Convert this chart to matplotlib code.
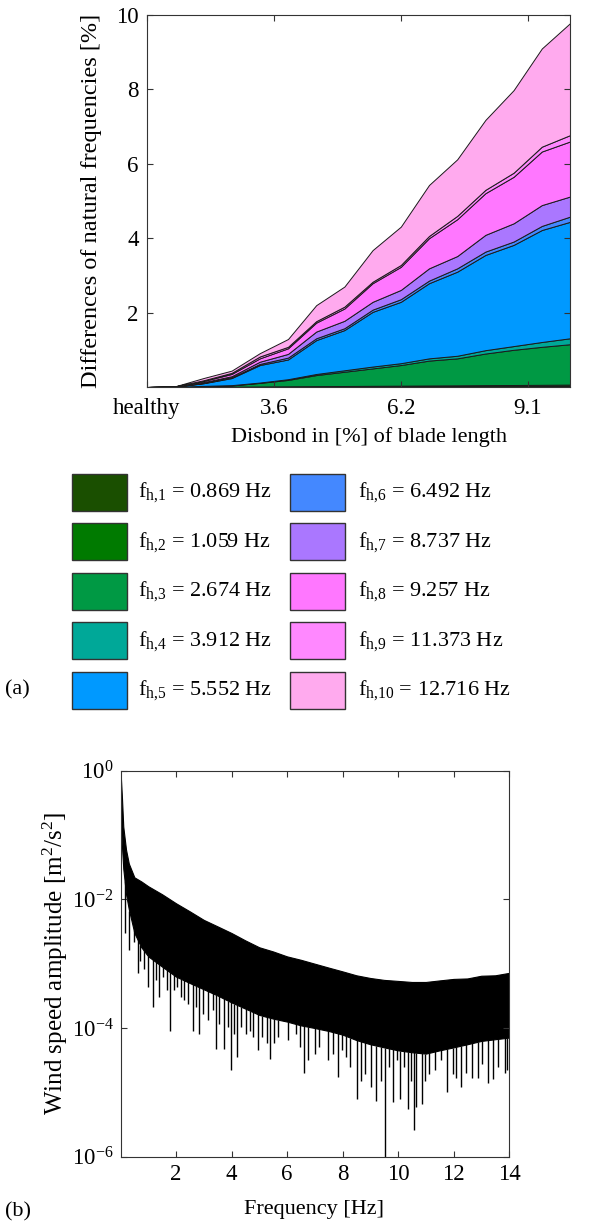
import matplotlib
matplotlib.use("Agg")
import matplotlib.pyplot as plt
from matplotlib.patches import Rectangle
import numpy as np

plt.rcParams["font.family"] = ["Liberation Serif", "DejaVu Serif"]
plt.rcParams["mathtext.fontset"] = "custom"
plt.rcParams["mathtext.rm"] = "Liberation Serif"
plt.rcParams["mathtext.it"] = "Liberation Serif"
plt.rcParams["mathtext.default"] = "regular"

# ---- (a) stacked differences of natural frequencies [%] ----
disbond_steps = np.arange(16)
tick_pos = [0, 4.5, 9, 13.5]
tick_labels = ["healthy", "3.6", "6.2", "9.1"]

mode_1 = [0, 0, 0.002, 0.004, 0.006, 0.008, 0.010, 0.012, 0.014, 0.016, 0.018, 0.020, 0.022, 0.024, 0.026, 0.030]
mode_2 = [0, 0, 0.003, 0.005, 0.008, 0.010, 0.013, 0.015, 0.018, 0.020, 0.023, 0.025, 0.028, 0.030, 0.033, 0.035]
mode_3 = [0, 0.003, 0.015, 0.031, 0.096, 0.172, 0.297, 0.383, 0.468, 0.554, 0.669, 0.725, 0.850, 0.946, 1.021, 1.085]
mode_4 = [0, 0.001, 0.01, 0.01, 0.01, 0.02, 0.03, 0.04, 0.05, 0.05, 0.06, 0.07, 0.09, 0.10, 0.13, 0.16]
mode_5 = [0, 0.006, 0.07, 0.19, 0.47, 0.53, 0.91, 1.08, 1.47, 1.65, 2.02, 2.26, 2.56, 2.72, 3.01, 3.13]
mode_6 = [0, 0.001, 0.01, 0.02, 0.03, 0.05, 0.05, 0.05, 0.06, 0.07, 0.07, 0.09, 0.09, 0.09, 0.11, 0.14]
mode_7 = [0, 0.003, 0.02, 0.03, 0.06, 0.10, 0.18, 0.20, 0.21, 0.25, 0.33, 0.33, 0.45, 0.49, 0.56, 0.54]
mode_8 = [0, 0.002, 0.03, 0.06, 0.09, 0.15, 0.24, 0.33, 0.50, 0.62, 0.81, 0.99, 1.12, 1.25, 1.44, 1.48]
mode_9 = [0, 0.002, 0.02, 0.03, 0.05, 0.04, 0.04, 0.05, 0.04, 0.05, 0.06, 0.09, 0.09, 0.11, 0.13, 0.17]
mode_10 = [0, 0.002, 0.06, 0.06, 0.09, 0.21, 0.43, 0.54, 0.85, 1.03, 1.37, 1.52, 1.88, 2.22, 2.64, 3.01]

modes = [mode_1, mode_2, mode_3, mode_4, mode_5, mode_6, mode_7, mode_8, mode_9, mode_10]
mode_freqs = ["0.869", "1.059", "2.674", "3.912", "5.552",
              "6.492", "8.737", "9.257", "11.373", "12.716"]
mode_colors = ["#1a4f00", "#007a00", "#009944", "#00a898", "#0099ff",
               "#4488ff", "#aa77ff", "#ff77ff", "#ff88ff", "#ffaaee"]

# ---- (b) wind speed spectrum: envelope of the dense band + deep spikes ----
env_freq = [0, 0.05, 0.1, 0.2, 0.3, 0.5, 0.75, 1, 1.5, 2, 2.5, 3, 3.5, 4, 4.5, 5, 5.5,
            6, 6.5, 7, 7.5, 8, 8.5, 9, 9.5, 10, 10.5, 11, 11.5, 12, 12.5, 13, 13.5, 14]
env_upper = [1.0, 0.40, 0.135, 0.059, 0.036, 0.022, 0.019, 0.016, 0.012, 8.7e-3, 6.5e-3,
             4.8e-3, 3.8e-3, 3.0e-3, 2.3e-3, 1.8e-3, 1.55e-3, 1.3e-3, 1.15e-3, 1.0e-3,
             8.7e-4, 7.6e-4, 6.6e-4, 6.0e-4, 5.6e-4, 5.4e-4, 5.2e-4, 5.2e-4, 5.5e-4,
             5.8e-4, 5.9e-4, 6.5e-4, 6.6e-4, 7.2e-4]
env_lower = [0.25, 0.07, 0.03, 0.012, 7e-3, 3.0e-3, 1.8e-3, 1.3e-3, 9e-4, 6.3e-4, 5.0e-4,
             4.0e-4, 3.2e-4, 2.5e-4, 2.0e-4, 1.6e-4, 1.4e-4, 1.26e-4, 1.1e-4, 1.0e-4,
             9e-5, 7.9e-5, 6.5e-5, 5.6e-5, 5.0e-5, 4.5e-5, 4.2e-5, 4.0e-5, 4.5e-5,
             5.0e-5, 5.6e-5, 6.3e-5, 6.7e-5, 7.1e-5]

spike_freq = [0.16, 0.32, 0.48, 0.62, 0.72, 0.83, 0.98, 1.17, 1.28, 1.40, 1.54, 1.68, 1.79,
              1.91, 2.04, 2.18, 2.29, 2.43, 2.62, 2.71, 2.82, 2.98, 3.17, 3.32, 3.44, 3.56,
              3.72, 3.88, 3.97, 4.10, 4.20, 4.36, 4.52, 4.68, 4.79, 4.95, 5.11, 5.27, 5.40,
              5.53, 5.69, 6.03, 6.32, 6.48, 6.63, 6.77, 7.01, 7.16, 7.48, 7.64, 7.85, 7.98,
              8.12, 8.28, 8.54, 8.68, 8.80, 9.02, 9.21, 9.37, 9.53, 9.67, 9.81, 9.95, 10.07,
              10.23, 10.35, 10.48, 10.57, 10.66, 10.85, 10.97, 11.13, 11.34, 11.56, 11.77,
              11.98, 12.10, 12.28, 12.46, 12.68, 12.88, 13.04, 13.24, 13.42, 13.62, 13.84, 13.93]
spike_amp = [2.95e-3, 1.62e-3, 2.19e-3, 7.1e-4, 1.12e-3, 8.3e-4, 4.4e-4, 2.1e-4, 5.5e-4,
             3.0e-4, 6.2e-4, 3.9e-4, 9.1e-5, 3.9e-4, 4.4e-4, 3.0e-4, 2.7e-4, 2.4e-4, 9.1e-5,
             2.1e-4, 8.1e-5, 1.66e-4, 1.32e-4, 1.9e-4, 4.8e-5, 1.17e-4, 4.8e-5, 1.05e-4,
             2.2e-5, 8.1e-5, 3.5e-5, 1.05e-4, 8.1e-5, 9.1e-5, 7.2e-5, 4.5e-5, 7.2e-5, 5.8e-5,
             3.3e-5, 5.8e-5, 7.2e-5, 6.5e-5, 8.1e-5, 5.0e-5, 2.0e-5, 3.2e-5, 4.0e-5, 5.0e-5,
             3.2e-5, 4.0e-5, 1.74e-5, 4.5e-5, 3.5e-5, 2.5e-5, 7.9e-6, 1.5e-5, 1.95e-5, 1.2e-5,
             7.4e-6, 1.5e-5, 5e-7, 2.5e-5, 7.1e-6, 3.2e-5, 7.9e-6, 2.5e-5, 5.5e-6, 1.5e-5,
             2.6e-6, 5.9e-6, 6.6e-6, 1.5e-5, 1.95e-5, 2.2e-5, 3.2e-5, 1.0e-5, 1.95e-5, 1.7e-5,
             1.2e-5, 2.0e-5, 1.7e-5, 1.7e-5, 2.8e-5, 1.4e-5, 1.6e-5, 2.5e-5, 2.0e-5, 2.2e-5]

W, H = 592, 1226
fig = plt.figure(figsize=(W / 100, H / 100), dpi=100)

# overlay in pixel coordinates for legend and panel labels
lax = fig.add_axes([0, 0, 1, 1])
lax.set_xlim(0, W)
lax.set_ylim(H, 0)
lax.axis("off")

spine_col = "#333333"

# ---------------- panel (a) ----------------
ax1 = fig.add_axes([147 / W, 1 - 387 / H, 423 / W, 372 / H])
ax1.stackplot(disbond_steps, *modes, colors=mode_colors,
              edgecolor="#1a1a1a", linewidth=0.7)
ax1.set_xlim(0, 15)
ax1.set_ylim(0, 10)
ax1.set_yticks([2, 4, 6, 8, 10])
ax1.set_xticks(tick_pos, tick_labels)
ax1.tick_params(direction="in", top=True, right=True, length=4, width=0.8,
                labelsize=16.5, color=spine_col)
ax1.tick_params(axis="x", pad=8)
ax1.tick_params(axis="y", pad=6)
for s in ax1.spines.values():
    s.set_color(spine_col)
    s.set_linewidth(0.8)
ax1.set_ylabel("Differences of natural frequencies [%]", fontsize=17.5)
ax1.yaxis.set_label_coords(-0.106, 0.5)
ax1.set_xlabel("Disbond in [%] of blade length", fontsize=16)
ax1.xaxis.set_label_coords(0.525, -0.108)

# manual legend, two columns
box_w, box_h = 55, 37
col_box_x = [72, 290]
col_text_x = [138, 358]
row_y = [492, 541.5, 591, 640.5, 690]
for i, (freq, col) in enumerate(zip(mode_freqs, mode_colors)):
    c, r = divmod(i, 5)
    lax.add_patch(Rectangle((col_box_x[c], row_y[r] - box_h / 2), box_w, box_h,
                            facecolor=col, edgecolor="#333333", linewidth=1.0))
    lax.text(col_text_x[c], row_y[r] + 5,
             r"$\mathregular{f_{h{,}%d}}$ = %s Hz" % (i + 1, freq),
             fontsize=16, va="baseline", ha="left")

lax.text(5, 690, "(a)", fontsize=16, va="center", ha="left")
lax.text(5, 1212, "(b)", fontsize=16, va="center", ha="left")

# ---------------- panel (b) ----------------
ax2 = fig.add_axes([120.5 / W, 1 - 1156.7 / H, 388.5 / W, 386 / H])
ax2.fill_between(env_freq, env_lower, env_upper, color="black", linewidth=0.8)
spike_top = np.interp(spike_freq, env_freq, env_lower)
ax2.vlines(spike_freq, spike_amp, spike_top, color="black", linewidth=1.0)
ax2.set_yscale("log")
ax2.set_xlim(0, 14)
ax2.set_ylim(1e-6, 1e0)
ax2.set_yticks([1e-6, 1e-4, 1e-2, 1e0])
ax2.yaxis.set_minor_locator(matplotlib.ticker.NullLocator())
ax2.set_xticks([2, 4, 6, 8, 10, 12, 14])
ax2.tick_params(direction="in", top=True, right=True, length=4, width=0.8,
                labelsize=16.5, color=spine_col)
ax2.tick_params(axis="x", pad=5)
ax2.tick_params(axis="y", pad=5)
for s in ax2.spines.values():
    s.set_color(spine_col)
    s.set_linewidth(0.8)
ax2.set_ylabel(r"Wind speed amplitude [m$^2$/s$^2$]", fontsize=18)
ax2.yaxis.set_label_coords(-0.13, 0.5)
ax2.set_xlabel("Frequency [Hz]", fontsize=16)
ax2.xaxis.set_label_coords(0.498, -0.112)

fig.savefig("out.png", dpi=100)
